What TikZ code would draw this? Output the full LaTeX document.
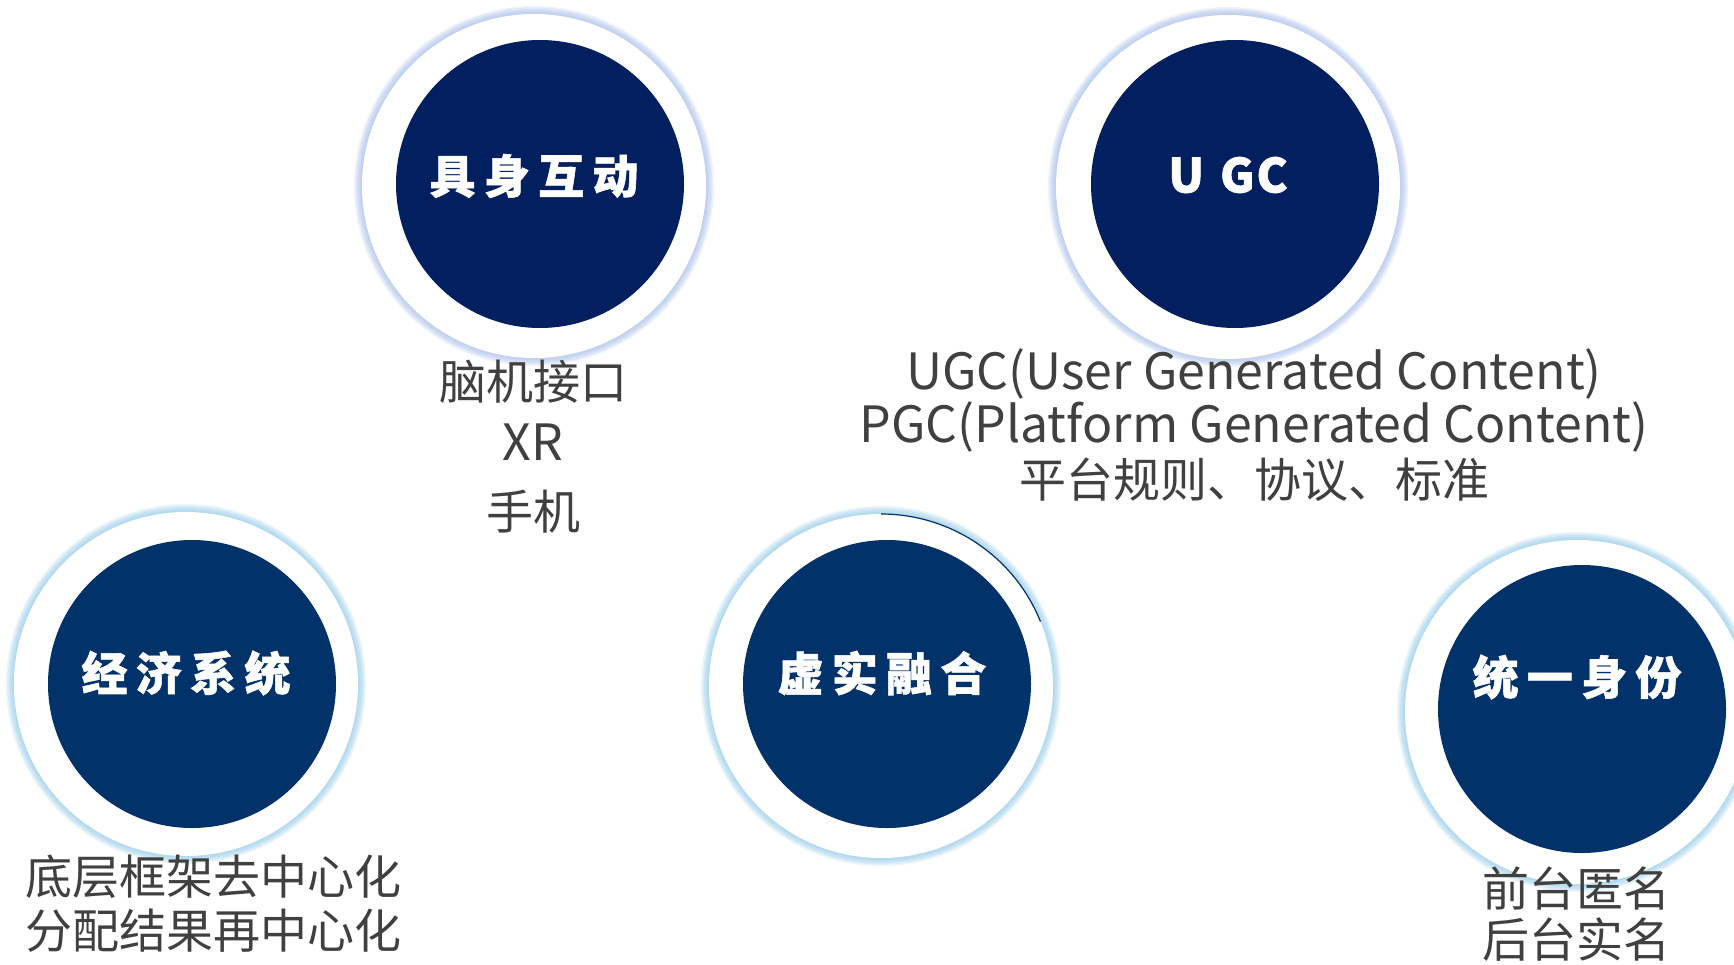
\documentclass[tikz,border=0pt]{standalone}
\usepackage{fontspec}
\setmainfont{Noto Sans CJK SC}
\newfontfamily\cjklab{Noto Sans CJK SC}[LetterSpace=18, BoldFeatures={FakeBold=1.2}]
\newfontfamily\latlab{Noto Sans CJK SC}[LetterSpace=4, BoldFeatures={FakeBold=1.2}]
\definecolor{navyA}{RGB}{2,32,96}
\definecolor{navyB}{RGB}{2,50,106}
\definecolor{glowA}{RGB}{160,184,232}
\definecolor{glowB}{RGB}{140,198,230}
\definecolor{txtgray}{RGB}{64,64,64}
\tikzset{
  ring/.style={circle, fill=white, minimum size=344pt, inner sep=0pt},
  disc/.style={circle, minimum size=288pt, inner sep=0pt},
  lab/.style={text=white, inner sep=0pt, font=\cjklab\bfseries\fontsize{46}{50}\selectfont},
  latlabel/.style={text=white, inner sep=0pt, font=\latlab\bfseries\fontsize{47}{50}\selectfont},
  note/.style={text=txtgray, inner sep=0pt, align=center, font=\fontsize{47}{53}\selectfont},
  notelat/.style={text=txtgray, inner sep=0pt, align=center, font=\fontsize{50}{53}\selectfont},
}
\begin{document}
\begin{tikzpicture}[x=1pt,y=-1pt]
\useasboundingbox (0,0) rectangle (1734,964);
\clip (0,0) rectangle (1734,964);
% glows
\foreach \cx/\cy/\col in {534/186/glowA, 1228/187/glowA, 186/684/glowB, 881/686/glowB, 1577/712/glowB}{
  \foreach \r in {180,178.5,...,171}{
    \fill[\col, opacity=0.18] (\cx,\cy) circle (\r pt);
  }
}
% rings
\node[ring] (o1) at (534,186) {};
\node[ring] (o2) at (1228,187) {};
\node[ring] (o3) at (186,684) {};
\node[ring] (o4) at (881,686) {};
\node[ring] (o5) at (1577,712) {};
\draw[navyB, line width=1.2pt] (o4.center) ++(90:172pt) arc[start angle=90, end angle=22, radius=172pt];
% discs
\node[disc, fill=navyA] (c1) at (540,184) {};
\node[disc, fill=navyA] (c2) at (1235,184) {};
\node[disc, fill=navyB] (c3) at (192,684) {};
\node[disc, fill=navyB] (c4) at (887,684) {};
\node[disc, fill=navyB] (c5) at (1582,709) {};
% labels
\node[lab] (l1) at (534,176) {具身互动};
\node[latlabel] (l2) at (1228,175) {U\hspace{16pt}GC};
\node[lab] (l3) at (186,673) {经济系统};
\node[lab] (l4) at (882,673) {虚实融合};
\node[lab] (l5) at (1577,677) {统一身份};
% notes
\node[note] (n1a) at (533,382) {脑机接口};
\node[notelat] (n1b) at (533,442) {XR};
\node[note] (n1c) at (533,512) {手机};
\node[notelat] (n2a) at (1254,374) {UGC(User Generated Content)};
\node[notelat] (n2b) at (1254,427) {PGC(Platform Generated Content)};
\node[note] (n2c) at (1254,480) {平台规则、协议、标准};
\node[note] (n3a) at (213,877) {底层框架去中心化};
\node[note] (n3b) at (213,931) {分配结果再中心化};
\node[note] (n5a) at (1576,888) {前台匿名};
\node[note] (n5b) at (1576,940) {后台实名};
\end{tikzpicture}
\end{document}
